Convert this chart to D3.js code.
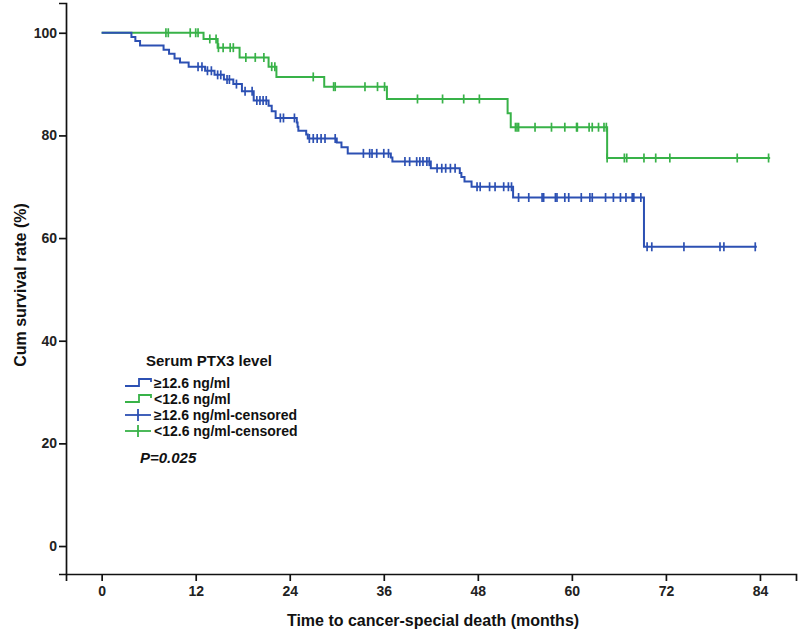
<!DOCTYPE html>
<html><head><meta charset="utf-8">
<script src="https://cdn.jsdelivr.net/npm/d3@7"></script>
<style>body{margin:0;background:#fff}svg{display:block}</style>
</head><body>
<svg id="c" width="800" height="635"></svg>
<script>
// ---- data ----
const xTickValues = [0, 12, 24, 36, 48, 60, 72, 84];
const yTickValues = [0, 20, 40, 60, 80, 100];

// >=12.6 ng/ml group (blue): event times (months) and survival (%) after each event
const blueEventTimes = [0, 3.8, 4.3, 4.9, 7.9, 8.6, 9.3, 10.0, 11.1, 13.2, 14.4, 15.6, 16.8, 17.9, 19.4, 21.3, 21.7, 22.2, 24.9, 25.0, 25.1, 26.1, 26.3, 30.0, 30.6, 31.4, 36.9, 37.1, 42.0, 45.7, 45.9, 46.3, 47.2, 52.5, 69.2];
const blueSurvival   = [100, 99.2, 98.4, 97.5, 96.7, 95.9, 95.0, 94.2, 93.4, 92.6, 91.8, 90.9, 90.0, 88.6, 86.8, 85.8, 84.7, 83.4, 82.5, 81.7, 80.9, 80.2, 79.4, 78.6, 77.7, 76.5, 75.7, 74.9, 73.6, 72.7, 71.9, 71.0, 70.0, 67.9, 58.3];
const blueCensorTimes = [12.3, 12.8, 13.5, 14.0, 14.8, 15.2, 16.0, 16.3, 17.2, 18.3, 19.2, 19.8, 20.2, 20.6, 21.0, 22.8, 23.2, 24.6, 26.5, 27.0, 27.5, 28.0, 28.5, 29.8, 33.4, 34.2, 34.5, 35.1, 36.0, 36.6, 38.7, 39.3, 40.2, 40.6, 41.0, 41.5, 41.8, 42.8, 43.4, 43.9, 44.5, 45.1, 47.9, 48.3, 49.5, 50.2, 51.3, 51.9, 52.3, 53.2, 54.5, 56.2, 56.4, 57.9, 58.1, 59.1, 59.6, 61.2, 62.3, 62.6, 64.3, 65.3, 66.2, 66.9, 67.7, 67.9, 68.8, 69.6, 70.2, 74.3, 78.9, 79.4, 83.4];
const blueEndTime = 83.6;

// <12.6 ng/ml group (green)
const greenEventTimes = [0, 13.0, 14.8, 17.6, 21.3, 22.3, 28.4, 36.4, 51.8, 52.2, 64.5];
const greenSurvival   = [100, 98.8, 97.1, 95.2, 93.4, 91.4, 89.5, 87.1, 84.3, 81.6, 75.6];
const greenCensorTimes = [8.2, 8.5, 11.3, 12.0, 12.3, 13.8, 14.6, 14.9, 15.5, 16.4, 16.8, 18.4, 19.6, 20.7, 21.7, 22.1, 27.0, 29.6, 29.8, 33.6, 35.2, 36.1, 40.3, 43.5, 46.2, 48.2, 52.8, 53.0, 53.2, 55.3, 57.4, 59.1, 60.6, 60.7, 62.2, 62.6, 63.4, 64.1, 64.4, 64.5, 66.7, 67.0, 69.2, 70.7, 72.5, 81.1, 85.1];
const greenEndTime = 85.3;

const legendTitle = "Serum PTX3 level";
const legendLabels = ["\u226512.6 ng/ml", "<12.6 ng/ml", "\u226512.6 ng/ml-censored", "<12.6 ng/ml-censored"];
const pText = "P=0.025";
const xTitle = "Time to cancer-special death (months)";
const yTitle = "Cum survival rate (%)";

// ---- drawing ----
const BLUE = "#2c50b3", GREEN = "#38b248";
const svg = d3.select("#c");
const x = d3.scaleLinear().domain([-4.55, 88.6]).range([66, 796]);
const y = d3.scaleLinear().domain([-5.45, 105.8]).range([574, 3]);
const FONT = "'Liberation Sans', Arial, sans-serif";

const xAxis = svg.append("g").attr("transform", "translate(0,574)")
  .call(d3.axisBottom(x).tickValues(xTickValues).tickSizeOuter(0).tickSize(7).tickPadding(5));
const yAxis = svg.append("g").attr("transform", "translate(66,0)")
  .call(d3.axisLeft(y).tickValues(yTickValues).tickSizeOuter(0).tickSize(7).tickPadding(2));
[xAxis, yAxis].forEach(g => {
  g.select(".domain").attr("stroke", "#111").attr("stroke-width", 1.7);
  g.selectAll(".tick line").attr("stroke", "#111").attr("stroke-width", 1.7);
  g.selectAll(".tick text").attr("fill", "#222").style("font-family", FONT)
    .style("font-size", "14px").style("font-weight", "bold");
});

function survivalAt(times, surv, t) {
  let s = surv[0];
  for (let i = 0; i < times.length; i++) if (times[i] <= t) s = surv[i];
  return s;
}
function drawGroup(times, surv, censors, endT, color) {
  const pts = times.map((t, i) => [t, surv[i]]);
  pts.push([endT, surv[surv.length - 1]]);
  const line = d3.line().x(d => x(d[0])).y(d => y(d[1])).curve(d3.curveStepAfter);
  svg.append("path").datum(pts).attr("d", line).attr("fill", "none")
    .attr("stroke", color).attr("stroke-width", 2);
  svg.append("g").selectAll("line").data(censors).join("line")
    .attr("x1", d => x(d)).attr("x2", d => x(d))
    .attr("y1", d => y(survivalAt(times, surv, d)) - 4.5)
    .attr("y2", d => y(survivalAt(times, surv, d)) + 4.5)
    .attr("stroke", color).attr("stroke-width", 1.7);
}
drawGroup(greenEventTimes, greenSurvival, greenCensorTimes, greenEndTime, GREEN);
drawGroup(blueEventTimes, blueSurvival, blueCensorTimes, blueEndTime, BLUE);

// axis titles
svg.append("text").attr("x", 433).attr("y", 626).attr("text-anchor", "middle")
  .style("font-family", FONT).style("font-size", "16px").style("font-weight", "bold")
  .attr("fill", "#111").text(xTitle);
svg.append("text").attr("transform", "translate(26,285) rotate(-90)").attr("text-anchor", "middle")
  .style("font-family", FONT).style("font-size", "16px").style("font-weight", "bold")
  .attr("fill", "#111").text(yTitle);

// legend
const lg = svg.append("g");
lg.append("text").attr("x", 146).attr("y", 366).text(legendTitle)
  .style("font-family", FONT).style("font-size", "15px").style("font-weight", "bold").attr("fill", "#111");
const itemY = [383, 399, 415, 431];
const itemColors = [BLUE, GREEN, BLUE, GREEN];
legendLabels.forEach((lab, i) => {
  const yy = itemY[i];
  if (i < 2) {
    lg.append("path").attr("d", `M125,${yy + 3}H139V${yy - 4}H151V${yy - 1}`)
      .attr("fill", "none").attr("stroke", itemColors[i]).attr("stroke-width", 1.8);
  } else {
    lg.append("line").attr("x1", 125).attr("x2", 151).attr("y1", yy).attr("y2", yy)
      .attr("stroke", itemColors[i]).attr("stroke-width", 1.8);
    lg.append("line").attr("x1", 138).attr("x2", 138).attr("y1", yy - 6).attr("y2", yy + 6)
      .attr("stroke", itemColors[i]).attr("stroke-width", 1.8);
  }
  lg.append("text").attr("x", 154).attr("y", yy + 5).text(lab)
    .style("font-family", FONT).style("font-size", "14px").style("font-weight", "bold").attr("fill", "#111");
});
lg.append("text").attr("x", 140).attr("y", 463).text(pText)
  .style("font-family", FONT).style("font-size", "15px").style("font-weight", "bold")
  .style("font-style", "italic").attr("fill", "#111");
</script>
</body></html>
